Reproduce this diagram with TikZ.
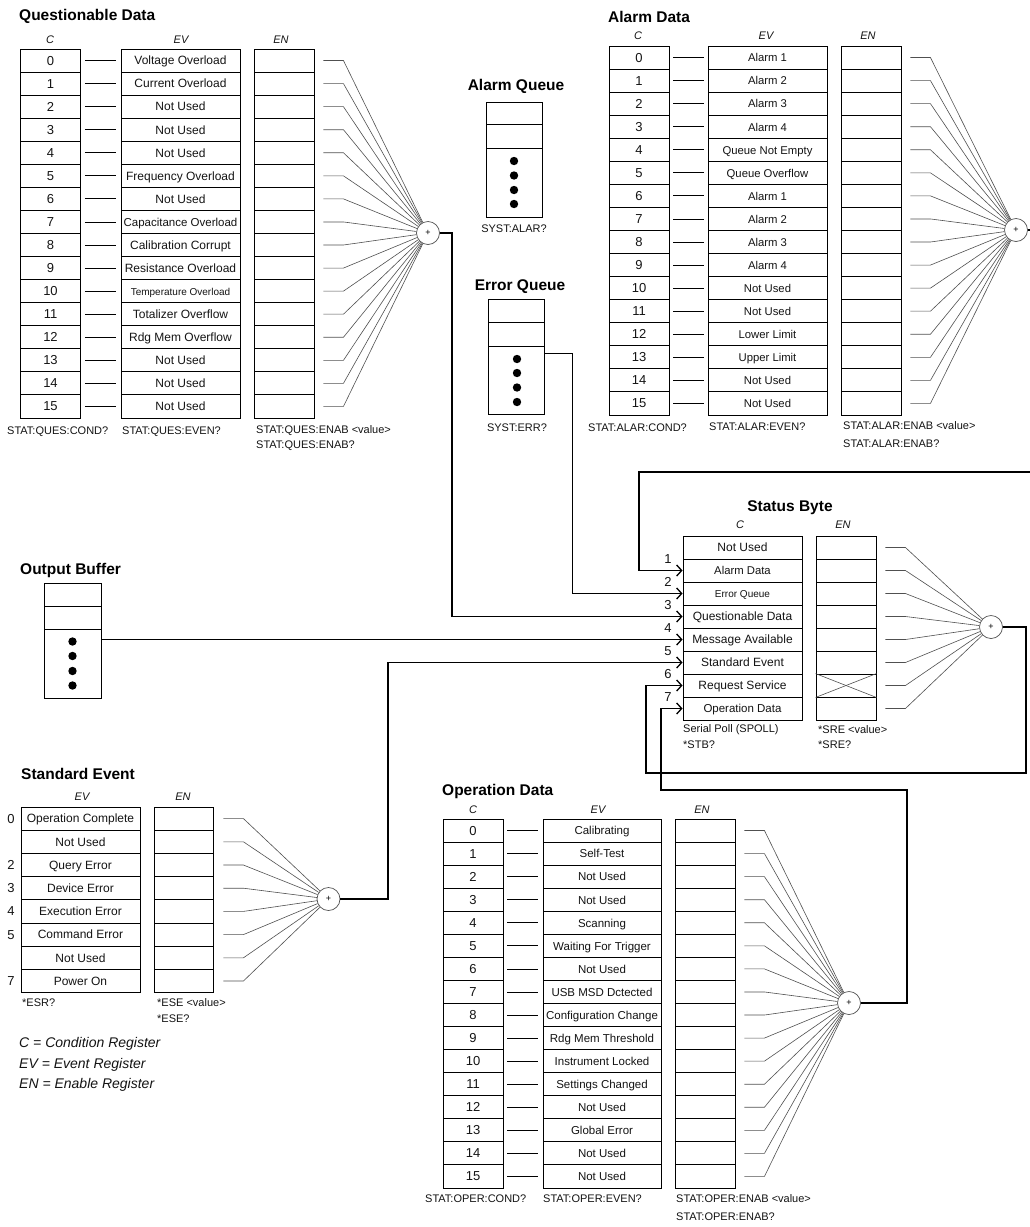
\documentclass[tikz,border=0pt]{standalone}
\usepackage{fontspec}
\setmainfont{Liberation Sans}
\usetikzlibrary{arrows.meta,calc}
\newcommand{\fsz}[1]{\fontsize{#1}{#1}\selectfont}
\definecolor{txt}{HTML}{141414}
\definecolor{fang}{HTML}{505050}
\begin{document}
\begin{tikzpicture}[x=1pt,y=-1pt,
  box/.style={draw=black, line width=0.9pt, inner sep=0pt, text=txt},
  ccell/.style={box, minimum width=60pt, font=\fsz{13}},
  evcell/.style={box, minimum width=119pt, font=\fsz{12}, text height=10pt, text depth=1.4pt},
  encell/.style={box, minimum width=60pt},
  ttl/.style={font=\bfseries\fsz{15.5}, inner sep=0pt},
  hdr/.style={font=\itshape\fsz{11}, inner sep=0pt, text=txt},
  qry/.style={font=\fsz{11}, inner sep=0pt, anchor=west, text=txt},
  legend/.style={font=\itshape\fsz{14}, inner sep=0pt, anchor=west, text=txt},
  fan/.style={draw=fang, line width=0.6pt},
  dashl/.style={draw=black, line width=0.8pt},
  sumc/.style={circle, draw=fang, line width=0.7pt, minimum size=23pt, inner sep=0pt, font=\fsz{9}, fill=white},
  arr/.style={draw=black, line width=1.8pt, -{Straight Barb[length=5pt,width=11pt,line width=1.3pt]}},
  num/.style={font=\fsz{13}, inner sep=0pt, text=txt},
  dot/.style={fill=black}
]
\fill[white] (0,0) rectangle (1030,1227);
\useasboundingbox (0,0) rectangle (1030,1227);
\clip (0,0) rectangle (1030,1227);

% ================= Questionable Data =================
\node[ttl, anchor=west] (qt) at (19,16) {Questionable Data};
\node[hdr] (qhc) at (50,40) {C};
\node[hdr] (qhev) at (181,40) {EV};
\node[hdr] (qhen) at (281,40) {EN};
\node[sumc] (qsum) at (428,233) {+};
\foreach \lab [count=\i from 0] in {Voltage Overload,Current Overload,Not Used,Not Used,Not Used,Frequency Overload,Not Used,{\fsz{11.5}Capacitance Overload},Calibration Corrupt,Resistance Overload,{\fsz{10}Temperature Overload},Totalizer Overflow,Rdg Mem Overflow,Not Used,Not Used,Not Used}{
  \pgfmathsetmacro\yy{49+23.06*(\i+0.5)}
  \node[ccell, minimum height=23.06pt] (qc\i) at (50.5,\yy) {\i};
  \node[evcell, minimum height=23.06pt] (qev\i) at (180.5,\yy) {\lab};
  \node[encell, minimum height=23.06pt] (qen\i) at (284,\yy) {};
  \draw[dashl] ($(qc\i.east)+(4,0)$) -- ($(qev\i.west)+(-5,0)$);
  \draw[fan] ($(qen\i.east)+(9,0)$) -- ++(20,0) -- (qsum);
}
\node[qry] (qq1) at (7,432) {STAT:QUES:COND?};
\node[qry] (qq2) at (122,432) {STAT:QUES:EVEN?};
\node[qry] (qq3) at (256,431) {STAT:QUES:ENAB <value>};
\node[qry] (qq4) at (256,446) {STAT:QUES:ENAB?};

% ================= Alarm Queue =================
\node[ttl] (aqt) at (516,86) {Alarm Queue};
\node[box, minimum width=56pt, minimum height=22pt] (aq1) at (514,113) {};
\node[box, minimum width=56pt, minimum height=24pt] (aq2) at (514,136) {};
\node[box, minimum width=56pt, minimum height=69pt] (aq3) at (514,182.5) {};
\foreach \d in {161,175.5,190,204} \fill[dot] (514,\d) circle (4.2);
\node[qry, anchor=center] (aqq) at (514,229) {SYST:ALAR?};

% ================= Error Queue =================
\node[ttl] (eqt) at (520,287) {Error Queue};
\node[box, minimum width=56pt, minimum height=23pt] (eq1) at (516,310.5) {};
\node[box, minimum width=56pt, minimum height=24pt] (eq2) at (516,334) {};
\node[box, minimum width=56pt, minimum height=68pt] (eq3) at (516,380) {};
\foreach \d in {359,373,387.5,402} \fill[dot] (517,\d) circle (4.2);
\node[qry, anchor=center] (eqq) at (517,428) {SYST:ERR?};

% ================= Alarm Data =================
\node[ttl, anchor=west] (at) at (608,17) {Alarm Data};
\node[hdr] (ahc) at (638,36) {C};
\node[hdr] (ahev) at (766,36) {EV};
\node[hdr] (ahen) at (868,36) {EN};
\node[sumc] (asum) at (1016,230) {+};
\foreach \lab [count=\i from 0] in {Alarm 1,Alarm 2,Alarm 3,Alarm 4,Queue Not Empty,Queue Overflow,Alarm 1,Alarm 2,Alarm 3,Alarm 4,Not Used,Not Used,Lower Limit,Upper Limit,Not Used,Not Used}{
  \pgfmathsetmacro\yy{46+23.06*(\i+0.5)}
  \node[ccell, minimum height=23.06pt] (ac\i) at (639,\yy) {\i};
  \node[evcell, minimum height=23.06pt, font=\fsz{11.3}] (aev\i) at (767.5,\yy) {\lab};
  \node[encell, minimum height=23.06pt] (aen\i) at (871,\yy) {};
  \draw[dashl] ($(ac\i.east)+(4,0)$) -- ($(aev\i.west)+(-4,0)$);
  \draw[fan] ($(aen\i.east)+(9,0)$) -- ++(20,0) -- (asum);
}
\node[qry] (aq1q) at (588,428) {STAT:ALAR:COND?};
\node[qry] (aq2q) at (709,427) {STAT:ALAR:EVEN?};
\node[qry] (aq3q) at (843,426) {STAT:ALAR:ENAB <value>};
\node[qry] (aq4q) at (843,444) {STAT:ALAR:ENAB?};

% ================= Status Byte =================
\node[ttl] (sbt) at (790,508) {Status Byte};
\node[hdr] (sbhc) at (740,525) {C};
\node[hdr] (sbhen) at (843,525) {EN};
\node[sumc] (sbsum) at (991,627) {+};
\foreach \lab [count=\i from 0] in {Not Used,{\fsz{11.3}Alarm Data},{\fsz{10}Error Queue},Questionable Data,Message Available,Standard Event,Request Service,{\fsz{11.5}Operation Data}}{
  \pgfmathsetmacro\yy{536+23*(\i+0.5)}
  \node[evcell, minimum height=23pt] (sbc\i) at (742.5,\yy) {\lab};
  \node[encell, minimum height=23pt] (sben\i) at (846,\yy) {};
  \draw[fan] ($(sben\i.east)+(9,0)$) -- ++(20,0) -- (sbsum);
}
\draw[fan] (sben6.north west) -- (sben6.south east);
\draw[fan] (sben6.south west) -- (sben6.north east);
\foreach \i in {1,...,7} \node[num] (sbn\i) at (668,{536+23*\i}) {\i};
\node[qry] (sbq1) at (683,730) {Serial Poll (SPOLL)};
\node[qry] (sbq2) at (683,745) {*STB?};
\node[qry] (sbq3) at (818,730) {*SRE <value>};
\node[qry] (sbq4) at (818,745) {*SRE?};

% ================= Output Buffer =================
\node[ttl, anchor=west] (obt) at (20,570) {Output Buffer};
\node[box, minimum width=57pt, minimum height=23pt] (ob1) at (72.5,594.5) {};
\node[box, minimum width=57pt, minimum height=23pt] (ob2) at (72.5,617.5) {};
\node[box, minimum width=57pt, minimum height=69pt] (ob3) at (72.5,663.5) {};
\foreach \d in {641.5,656,671,685.5} \fill[dot] (72.5,\d) circle (4.2);

% ================= Standard Event =================
\node[ttl, anchor=west] (set) at (21,774) {Standard Event};
\node[hdr] (sehev) at (82,797) {EV};
\node[hdr] (sehen) at (183,797) {EN};
\node[sumc] (ssum) at (328.5,899) {+};
\foreach \lab/\n [count=\i from 0] in {Operation Complete/0,Not Used/,Query Error/2,Device Error/3,Execution Error/4,Command Error/5,Not Used/,Power On/7}{
  \pgfmathsetmacro\yy{807+23.2*(\i+0.5)}
  \node[num] (sen\i) at (11,\yy) {\n};
  \node[evcell, minimum height=23.2pt] (seev\i) at (80.5,\yy) {\lab};
  \node[encell, minimum width=59pt, minimum height=23.2pt] (seen\i) at (183.5,\yy) {};
  \draw[fan] ($(seen\i.east)+(10,0)$) -- ++(20,0) -- (ssum);
}
\node[qry] (seq1) at (22,1003) {*ESR?};
\node[qry] (seq2) at (157,1003) {*ESE <value>};
\node[qry] (seq3) at (157,1018.5) {*ESE?};

\node[legend] (lg1) at (19,1044) {C = Condition Register};
\node[legend] (lg2) at (19,1064.5) {EV = Event Register};
\node[legend] (lg3) at (19,1085) {EN = Enable Register};

% ================= Operation Data =================
\node[ttl, anchor=west] (odt) at (442,791) {Operation Data};
\node[hdr] (odhc) at (473,810) {C};
\node[hdr] (odhev) at (598,810) {EV};
\node[hdr] (odhen) at (702,810) {EN};
\node[sumc] (osum) at (849,1003) {+};
\foreach \lab [count=\i from 0] in {Calibrating,Self-Test,Not Used,Not Used,Scanning,Waiting For Trigger,Not Used,USB MSD Dctected,Configuration Change,Rdg Mem Threshold,Instrument Locked,Settings Changed,Not Used,Global Error,Not Used,Not Used}{
  \pgfmathsetmacro\yy{819+23.06*(\i+0.5)}
  \node[ccell, minimum height=23.06pt] (oc\i) at (473,\yy) {\i};
  \node[evcell, minimum width=118pt, minimum height=23.06pt, font=\fsz{11.5}] (oev\i) at (602,\yy) {\lab};
  \node[encell, minimum height=23.06pt] (oen\i) at (705,\yy) {};
  \draw[dashl] ($(oc\i.east)+(4,0)$) -- ($(oev\i.west)+(-5,0)$);
  \draw[fan] ($(oen\i.east)+(9,0)$) -- ++(20,0) -- (osum);
}
\node[qry] (oq1) at (425,1199) {STAT:OPER:COND?};
\node[qry] (oq2) at (543,1199) {STAT:OPER:EVEN?};
\node[qry] (oq3) at (676,1199) {STAT:OPER:ENAB <value>};
\node[qry] (oq4) at (676,1217) {STAT:OPER:ENAB?};

% ================= Connectors =================
\draw[arr] (qsum.east) -- ++(12,0) |- (sbc3.west);
\draw[arr] ($(eq3.north east)+(0,8)$) -- ++(28,0) |- (sbc2.west);
\draw[arr] (ob3.east |- sbc4.west) -- (sbc4.west);
\draw[arr] (ssum.east) -- ++(47.5,0) |- (sbc5.west);
\coordinate (offr) at (1045,472);
\coordinate (fb1) at (639,472);
\draw[arr] (asum.east) -| (offr) -- (fb1) |- (sbc1.west);
\coordinate (sbr) at (1026,773);
\coordinate (sbl) at (646,773);
\draw[arr] (sbsum.east) -| (sbr) -- (sbl) |- (sbc6.west);
\coordinate (opr) at (907,790);
\coordinate (opl) at (661,790);
\draw[arr] (osum.east) -| (opr) -- (opl) |- (sbc7.west);
\end{tikzpicture}
\end{document}
